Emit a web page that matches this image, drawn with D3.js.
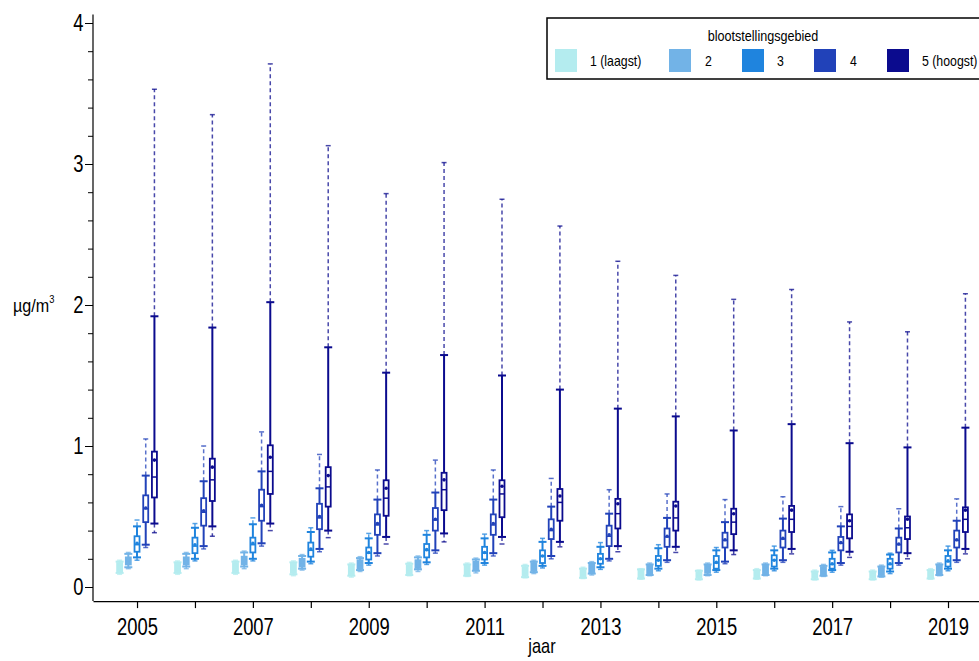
<!DOCTYPE html>
<html><head><meta charset="utf-8">
<script src="https://cdn.jsdelivr.net/npm/d3@7"></script>
<style>body{margin:0;background:#fff}svg{font-family:"Liberation Sans",Arial,sans-serif;display:block}</style>
</head><body><svg id="c" width="979" height="661"></svg>
<script>
const years = [2005,2006,2007,2008,2009,2010,2011,2012,2013,2014,2015,2016,2017,2018,2019];
const groups = ["1 (laagst)","2","3","4","5 (hoogst)"];
const colors = ["#b4ecef","#72b3e7","#1f84de","#2142b9","#0b0b8e"];
const yMajor = [0,1,2,3,4];
const yMinor = [0.2,0.4,0.6,0.8,1.2,1.4,1.6,1.8,2.2,2.4,2.6,2.8,3.2,3.4,3.6,3.8];
// per year: [group1..group5]
const pMin = [
 [.09,.13,.19,.28,.385],[.09,.13,.185,.27,.36],[.09,.13,.185,.29,.40],[.08,.12,.165,.25,.35],[.07,.11,.155,.22,.305],
 [.08,.11,.16,.24,.32],[.075,.10,.155,.22,.305],[.065,.095,.135,.20,.285],[.06,.085,.125,.185,.25],[.055,.08,.115,.175,.245],
 [.05,.08,.105,.165,.23],[.055,.08,.115,.175,.235],[.05,.075,.105,.155,.21],[.05,.07,.095,.155,.20],[.055,.08,.115,.175,.235]];
const pLow = [
 [.10,.14,.21,.30,.45],[.10,.145,.20,.29,.43],[.10,.145,.20,.31,.45],[.09,.13,.18,.27,.40],[.08,.12,.17,.24,.355],
 [.085,.125,.175,.26,.38],[.08,.115,.17,.24,.355],[.07,.105,.15,.22,.32],[.065,.095,.14,.20,.29],[.06,.085,.13,.19,.285],
 [.055,.085,.12,.18,.26],[.06,.085,.13,.19,.27],[.055,.08,.12,.17,.25],[.055,.075,.11,.17,.24],[.06,.085,.13,.19,.27]];
const q1 = [
 [.11,.16,.25,.46,.635],[.11,.16,.24,.435,.61],[.11,.16,.245,.47,.66],[.10,.145,.215,.41,.57],[.09,.13,.195,.37,.505],
 [.095,.135,.21,.40,.545],[.09,.125,.195,.37,.495],[.08,.115,.17,.34,.47],[.075,.10,.165,.29,.415],[.07,.095,.15,.285,.40],
 [.065,.10,.13,.28,.375],[.07,.095,.145,.28,.39],[.065,.09,.13,.26,.345],[.065,.085,.13,.245,.34],[.07,.095,.145,.28,.39]];
const median = [
 [.14,.19,.30,.555,.78],[.135,.185,.29,.53,.76],[.135,.19,.30,.57,.82],[.13,.175,.26,.49,.71],[.12,.16,.24,.44,.63],
 [.125,.165,.26,.475,.69],[.12,.15,.24,.44,.66],[.11,.14,.22,.40,.60],[.095,.13,.20,.36,.52],[.09,.12,.19,.355,.49],
 [.085,.12,.17,.33,.46],[.09,.12,.19,.34,.48],[.08,.115,.16,.31,.43],[.08,.11,.16,.30,.42],[.09,.12,.18,.33,.48]];
const mean = [
 [.14,.19,.31,.56,.90],[.14,.19,.30,.54,.85],[.14,.19,.31,.58,.92],[.13,.18,.27,.50,.79],[.12,.165,.245,.45,.70],
 [.125,.17,.265,.48,.76],[.12,.155,.245,.45,.715],[.11,.145,.22,.41,.645],[.10,.13,.20,.37,.59],[.095,.12,.19,.36,.575],
 [.09,.125,.175,.335,.52],[.09,.125,.19,.345,.545],[.085,.12,.165,.315,.47],[.085,.11,.165,.305,.48],[.09,.125,.185,.335,.545]];
const q3 = [
 [.17,.21,.36,.65,.96],[.165,.21,.35,.63,.91],[.17,.215,.35,.69,1.005],[.165,.20,.315,.59,.85],[.15,.19,.28,.515,.757],
 [.155,.19,.305,.56,.81],[.15,.18,.285,.515,.757],[.14,.17,.26,.48,.695],[.12,.16,.235,.435,.625],[.115,.15,.22,.415,.605],
 [.105,.15,.22,.385,.555],[.11,.15,.225,.40,.575],[.10,.14,.20,.355,.515],[.10,.135,.20,.35,.50],[.11,.15,.22,.40,.565]];
const pHigh = [
 [.18,.235,.43,.79,1.92],[.175,.235,.42,.75,1.84],[.18,.245,.445,.82,2.02],[.175,.22,.39,.70,1.70],[.16,.205,.345,.62,1.52],
 [.165,.21,.37,.67,1.645],[.16,.195,.345,.62,1.50],[.15,.18,.32,.57,1.40],[.13,.17,.285,.52,1.265],[.125,.16,.275,.49,1.21],
 [.115,.16,.26,.46,1.11],[.12,.16,.26,.485,1.155],[.11,.15,.245,.43,1.02],[.11,.145,.23,.415,.99],[.12,.16,.26,.47,1.13]];
const pMax = [
 [.19,.245,.475,1.05,3.53],[.185,.245,.45,1.0,3.35],[.19,.255,.49,1.10,3.71],[.185,.23,.42,.94,3.13],[.17,.215,.38,.83,2.79],
 [.175,.22,.40,.90,3.01],[.17,.205,.375,.83,2.75],[.16,.19,.345,.77,2.56],[.14,.18,.315,.69,2.31],[.13,.17,.30,.66,2.21],
 [.12,.17,.28,.62,2.04],[.13,.17,.29,.64,2.11],[.12,.16,.26,.57,1.88],[.12,.155,.24,.555,1.81],[.13,.17,.29,.625,2.08]];

const svg = d3.select("#c");
const x = d3.scaleLinear().domain([2004.24, 2019.535]).range([93, 979]);
const y = d3.scaleLinear().domain([0, 4]).range([587, 23]);
const off = d3.scalePoint().domain(d3.range(groups.length)).range([-17.4, 17.4]);
const bw = 5, cap = 8, capSmall = 5;

const data = [];
years.forEach((yr, i) => groups.forEach((g, k) => data.push({
  yr, k, min: pMin[i][k], lo: pLow[i][k], q1: q1[i][k], med: median[i][k],
  mean: mean[i][k], q3: q3[i][k], hi: pHigh[i][k], max: pMax[i][k]})));

const plot = svg.append("g");
const bx = plot.selectAll("g.b").data(data).join("g")
  .attr("transform", d => `translate(${x(d.yr) + off(d.k)},0)`);
const col = d => colors[d.k];
// dashed extensions
bx.append("line").attr("x1",0).attr("x2",0).attr("y1",d=>y(d.hi)).attr("y2",d=>y(d.max))
  .attr("stroke",col).attr("stroke-width",1.5).attr("stroke-dasharray","4,3").attr("stroke-opacity",0.75);
bx.append("line").attr("x1",0).attr("x2",0).attr("y1",d=>y(d.lo)).attr("y2",d=>y(d.min))
  .attr("stroke",col).attr("stroke-width",1.5).attr("stroke-dasharray","4,3").attr("stroke-opacity",0.75);
bx.append("line").attr("x1",-capSmall/2).attr("x2",capSmall/2).attr("y1",d=>y(d.max)).attr("y2",d=>y(d.max))
  .attr("stroke",col).attr("stroke-width",1.5).attr("stroke-opacity",0.75);
bx.append("line").attr("x1",-capSmall/2).attr("x2",capSmall/2).attr("y1",d=>y(d.min)).attr("y2",d=>y(d.min))
  .attr("stroke",col).attr("stroke-width",1.5).attr("stroke-opacity",0.75);
// solid whiskers
bx.append("line").attr("x1",0).attr("x2",0).attr("y1",d=>y(d.lo)).attr("y2",d=>y(d.hi))
  .attr("stroke",col).attr("stroke-width",2);
bx.append("line").attr("x1",-cap/2).attr("x2",cap/2).attr("y1",d=>y(d.hi)).attr("y2",d=>y(d.hi))
  .attr("stroke",col).attr("stroke-width",2);
bx.append("line").attr("x1",-cap/2).attr("x2",cap/2).attr("y1",d=>y(d.lo)).attr("y2",d=>y(d.lo))
  .attr("stroke",col).attr("stroke-width",2);
// box
bx.append("rect").attr("x",-bw/2).attr("width",bw).attr("y",d=>y(d.q3)).attr("height",d=>y(d.q1)-y(d.q3))
  .attr("fill",d => d.k < 2 ? colors[d.k] : "#fff").attr("stroke",col).attr("stroke-width",1.8);
bx.append("line").attr("x1",-bw/2).attr("x2",bw/2).attr("y1",d=>y(d.med)).attr("y2",d=>y(d.med))
  .attr("stroke",col).attr("stroke-width",1.5);
bx.append("circle").attr("cx",0).attr("cy",d=>y(d.mean)).attr("r",1.8).attr("fill",col);

// axes
const fontTick = "23px";
const yMinorAxis = svg.append("g").attr("transform","translate(93,0)")
  .call(d3.axisLeft(y).tickValues(yMinor).tickSize(5).tickFormat(""));
const yAxis = svg.append("g").attr("transform","translate(93,0)")
  .call(d3.axisLeft(y).tickValues(yMajor).tickSize(8).tickPadding(4).tickFormat(d3.format("d")));
[yMinorAxis, yAxis].forEach(a => a.select(".domain").remove());
yAxis.selectAll("text").attr("font-size",fontTick).attr("fill","#000").attr("font-family",null)
  .attr("transform","scale(0.8,1)");
svg.selectAll(".tick line").attr("stroke","#000");
svg.append("line").attr("x1",93).attr("x2",93).attr("y1",y(4.06)).attr("y2",y(-0.1))
  .attr("stroke","#000").attr("stroke-width",1.2);

const xAxis = svg.append("g").attr("transform",`translate(0,${y(-0.1)})`)
  .call(d3.axisBottom(x).tickValues(years).tickSize(7).tickSizeOuter(0).tickPadding(11)
    .tickFormat(d => d % 2 === 1 ? String(d) : ""));
xAxis.select(".domain").attr("stroke","#000").attr("stroke-width",1.2);
xAxis.selectAll(".tick line").attr("stroke","#000").attr("stroke-width",1.2);
xAxis.selectAll("text").attr("font-size",fontTick).attr("fill","#000").attr("font-family",null)
  .attr("transform","scale(0.8,1)");

// axis titles
svg.append("text").attr("transform","translate(13,312) scale(0.85,1)").attr("font-size","19px").attr("fill","#000")
  .text("µg/m").append("tspan").attr("font-size","11px").attr("dy","-9").text("3");
svg.append("text").attr("transform","translate(542,653) scale(0.82,1)").attr("text-anchor","middle")
  .attr("font-size","20px").attr("fill","#000").text("jaar");

// legend
const lg = svg.append("g");
lg.append("rect").attr("x",547).attr("y",18).attr("width",450).attr("height",61)
  .attr("fill","#fff").attr("stroke","#000").attr("stroke-width",1.5);
lg.append("text").attr("transform","translate(763,41) scale(0.9,1)").attr("text-anchor","middle")
  .attr("font-size","14px").attr("fill","#000").text("blootstellingsgebied");
const swX = [555,669,742,814,887];
const lbX = [590,705,777,850,922];
groups.forEach((g,k) => {
  lg.append("rect").attr("x",swX[k]).attr("y",49).attr("width",22).attr("height",23).attr("fill",colors[k]);
  lg.append("text").attr("transform",`translate(${lbX[k]},66) scale(0.88,1)`)
    .attr("font-size","14px").attr("fill","#000").text(g);
});
</script></body></html>
